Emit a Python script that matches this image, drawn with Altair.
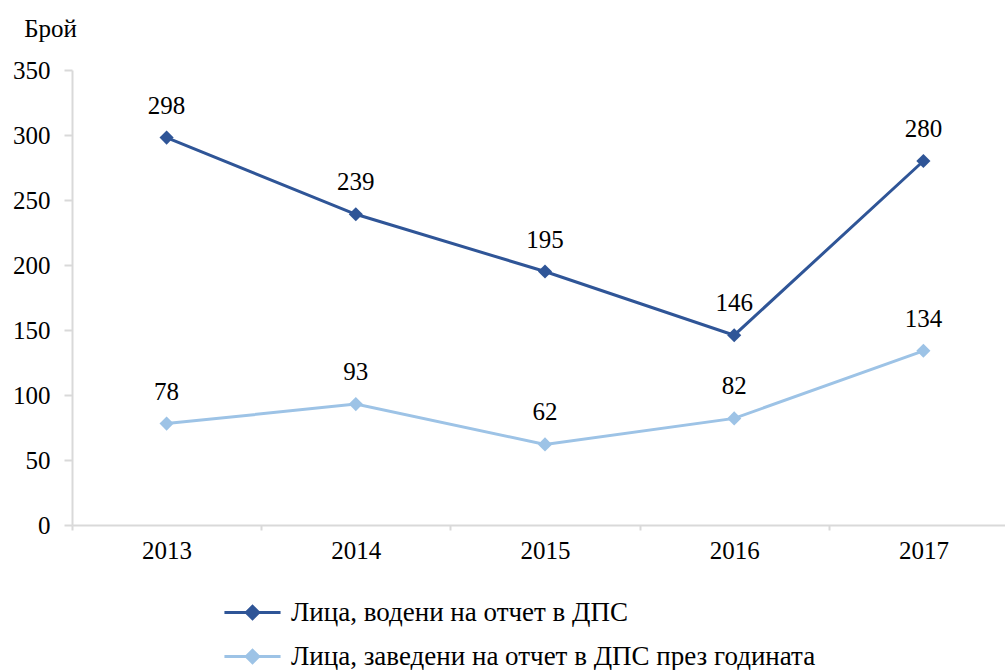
import altair as alt
import pandas as pd

years = ["2013", "2014", "2015", "2016", "2017"]
series_names = ["Лица, водени на отчет в ДПС", "Лица, заведени на отчет в ДПС през годината"]
held = [298, 239, 195, 146, 280]
registered = [78, 93, 62, 82, 134]
colors = ["#2F5597", "#9DC3E6"]

rows = []
for y, v in zip(years, held):
    rows.append({"year": y, "value": v, "series": series_names[0]})
for y, v in zip(years, registered):
    rows.append({"year": y, "value": v, "series": series_names[1]})
df = pd.DataFrame(rows)

FONT = "'Liberation Serif', 'DejaVu Serif', serif"
FS = 25
GREY = "#D9D9D9"

x = alt.X(
    "year:O",
    title=None,
    scale=alt.Scale(range=[0, 946]),
    axis=alt.Axis(
        labelAngle=0, labelFontSize=FS, labelFont=FONT, labelColor="#000",
        tickBand="extent", tickSize=5, tickColor=GREY, domainColor=GREY,
        domainWidth=2, tickWidth=2, labelPadding=8, grid=False,
    ),
)
y = alt.Y(
    "value:Q",
    scale=alt.Scale(domain=[0, 350], nice=False),
    axis=alt.Axis(
        values=[0, 50, 100, 150, 200, 250, 300, 350], title="Брой",
        titleAngle=0, titleX=-22, titleY=-42, titleAlign="center",
        titleBaseline="middle", titleFont=FONT, titleFontSize=FS,
        titleFontWeight="normal", titleColor="#000",
        labelFontSize=FS, labelFont=FONT, labelColor="#000",
        tickSize=8, tickColor=GREY, domainColor=GREY, domainWidth=2,
        tickWidth=2, labelPadding=14, grid=False,
    ),
)
cscale = alt.Scale(domain=series_names, range=colors)
legend = alt.Legend(
    title=None, orient="none", legendX=160, legendY=522, direction="vertical",
    labelFont=FONT, labelFontSize=27, labelColor="#000", labelLimit=800,
    symbolType="M-1.5,0H1.5M-0.33,0L0,-0.33L0.33,0L0,0.33Z",
    symbolSize=1400, symbolStrokeWidth=3, rowPadding=10, labelOffset=18,
    symbolOpacity=1,
)

base = alt.Chart(df)
lines = base.mark_line(strokeWidth=3).encode(
    x=x, y=y, color=alt.Color("series:N", sort=series_names, scale=cscale, legend=legend)
)
points = base.mark_point(shape="diamond", filled=True, size=200, opacity=1, strokeWidth=0.01).encode(
    x=x, y=y,
    fill=alt.Fill("series:N", sort=series_names, scale=cscale, legend=legend),
    stroke=alt.Stroke("series:N", sort=series_names, scale=cscale, legend=legend),
)
labels = base.mark_text(dy=-32, fontSize=FS, font=FONT, color="#000").encode(
    x=x, y=y, text="value:Q"
)

chart = (
    alt.layer(lines, points, labels)
    .properties(
        width=933, height=455,
        autosize=alt.AutoSizeParams(type="none"),
        padding={"left": 72, "top": 70, "right": 0, "bottom": 145},
        background="white",
    )
    .configure(font=FONT)
    .configure_view(stroke=None)
)

chart.save("out.html", embed_options={"renderer": "svg", "actions": False})
